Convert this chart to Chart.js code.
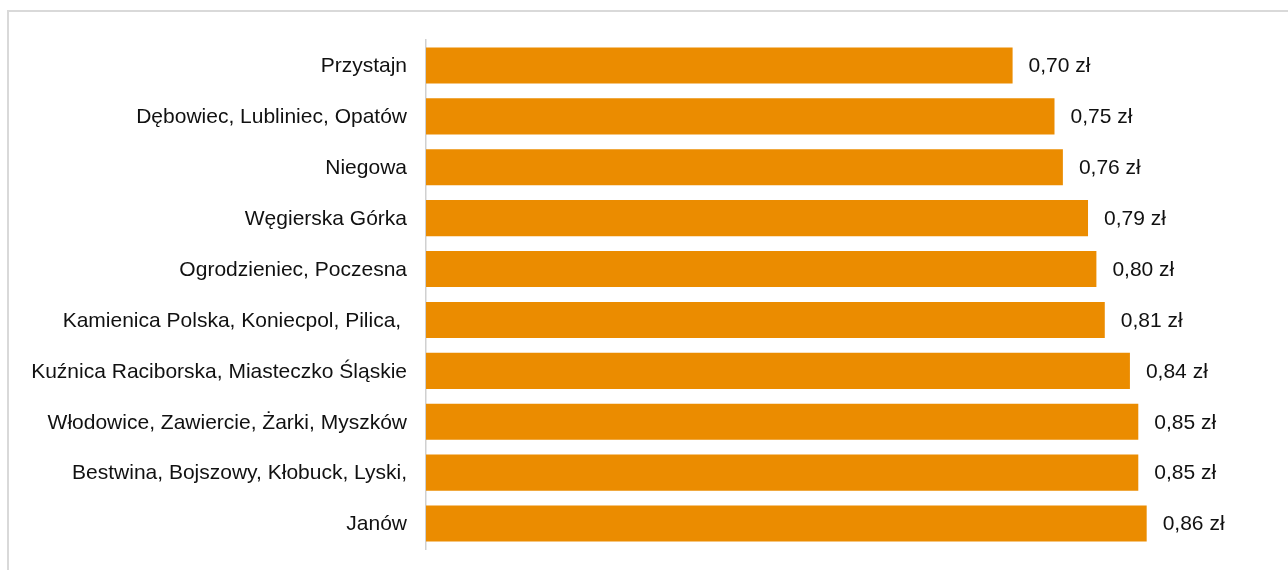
<!DOCTYPE html>
<html>
<head>
<meta charset="utf-8">
<script src="https://cdn.jsdelivr.net/npm/chart.js@4"></script>
<style>
  html, body { margin: 0; padding: 0; background: #fff; overflow: hidden; }
  #frame {
    position: absolute; left: 7px; top: 10px;
    width: 1300px; height: 580px;
    border: 2px solid #d9d9d9; box-sizing: border-box;
  }
  #wrap { position: absolute; left: 0; top: 0; width: 1288px; height: 570px; }
</style>
</head>
<body>
<div id="frame"></div>
<div id="wrap"><canvas id="chart" width="1288" height="570"></canvas></div>
<script>
// gminy i ceny (zł)
const categories = [
  "Przystajn",
  "Dębowiec, Lubliniec, Opatów",
  "Niegowa",
  "Węgierska Górka",
  "Ogrodzieniec, Poczesna",
  "Kamienica Polska, Koniecpol, Pilica, ",
  "Kuźnica Raciborska, Miasteczko Śląskie",
  "Włodowice, Zawiercie, Żarki, Myszków",
  "Bestwina, Bojszowy, Kłobuck, Lyski,",
  "Janów",
];
const prices = [0.70, 0.75, 0.76, 0.79, 0.80, 0.81, 0.84, 0.85, 0.85, 0.86];

const FONT = "Liberation Sans, Arial, sans-serif";

// etykiety z wartością obok słupka
const valueLabels = {
  id: "valueLabels",
  afterDatasetsDraw(chart) {
    const ctx = chart.ctx;
    const meta = chart.getDatasetMeta(0);
    ctx.save();
    ctx.font = "21px " + FONT;
    ctx.fillStyle = "#111";
    ctx.textAlign = "left";
    ctx.textBaseline = "middle";
    meta.data.forEach((bar, i) => {
      const txt = prices[i].toFixed(2).replace(".", ",") + " zł";
      ctx.fillText(txt, bar.x + 16, bar.y + 1);
    });
    ctx.restore();
  },
};

new Chart(document.getElementById("chart").getContext("2d"), {
  type: "bar",
  data: {
    labels: categories,
    datasets: [
      {
        data: prices,
        backgroundColor: "#eb8c00",
        borderWidth: 0,
        categoryPercentage: 1,
        barPercentage: 0.71,
      },
    ],
  },
  options: {
    indexAxis: "y",
    responsive: false,
    animation: false,
    layout: { padding: { top: 40, bottom: 21, right: 24, left: 0 } },
    scales: {
      x: { display: false, min: 0, max: 1 },
      y: {
        afterFit: (scale) => {
          scale.width = 426;
          scale.paddingTop = 0;
          scale.paddingBottom = 0;
        },
        grid: { display: false, drawTicks: false },
        border: { display: true, color: "#d0d0d0", width: 1.5 },
        ticks: {
          padding: 19,
          labelOffset: 1,
          color: "#111",
          font: { family: FONT, size: 21 },
        },
      },
    },
    plugins: {
      legend: { display: false },
      tooltip: { enabled: false },
    },
  },
  plugins: [valueLabels],
});
</script>
</body>
</html>
